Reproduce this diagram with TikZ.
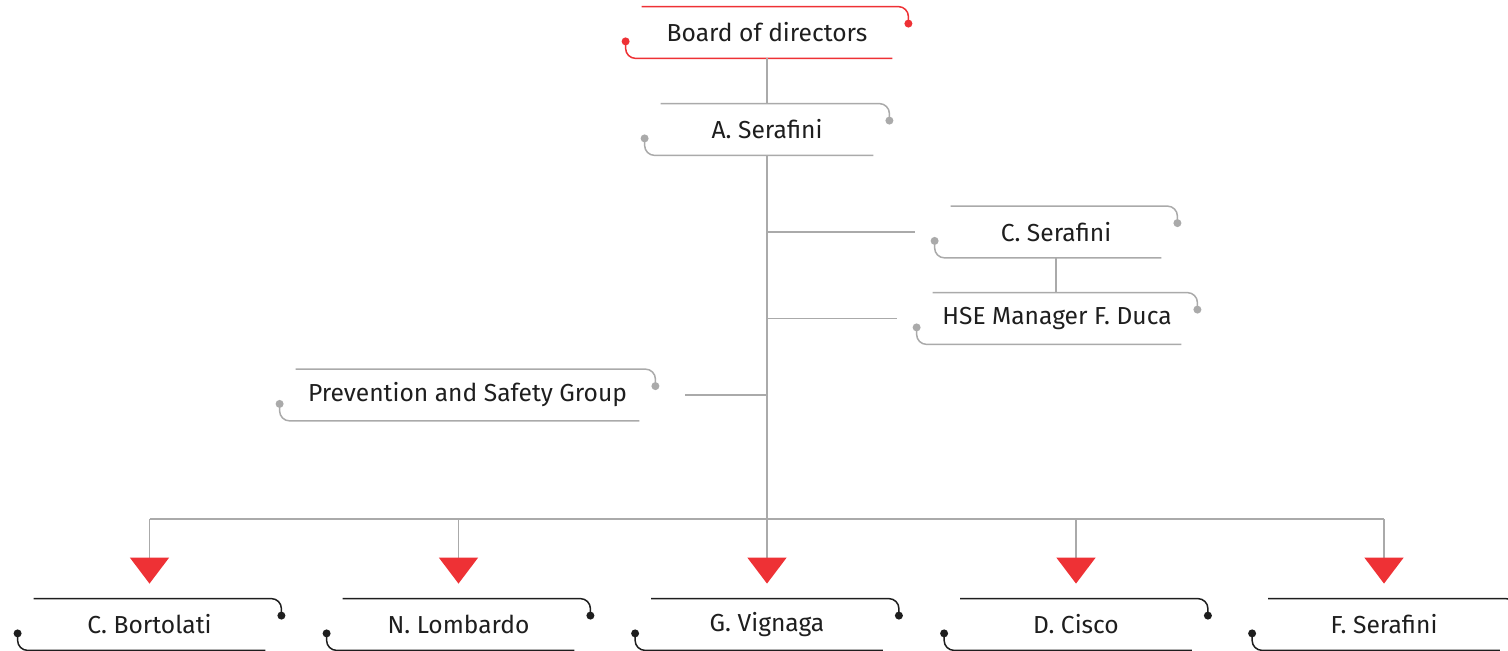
\documentclass[tikz,border=0pt]{standalone}
\usepackage{fontspec}
\setmainfont{Fira Sans}
\usetikzlibrary{arrows.meta}

\definecolor{brandred}{HTML}{EE3135}
\definecolor{linegray}{HTML}{AAAAAA}
\definecolor{ink}{HTML}{1E1E1E}

\begin{document}
\begin{tikzpicture}[x=0.5pt,y=-0.5pt]

    \tikzset{
      box/.style={shape=rectangle, inner sep=0pt, minimum height=25.5pt,
        text=ink, font=\fontsize{12.3}{14}\selectfont,
        append after command={\pgfextra{%
          \draw[#1, line width=0.75pt] ([xshift=8pt]\tikzlastnode.north west)
            -- ([xshift=-5pt]\tikzlastnode.north east)
            arc[start angle=90, end angle=0, radius=5pt]
            -- ([yshift=-8.5pt]\tikzlastnode.north east);
          \fill[#1] ([yshift=-8.5pt]\tikzlastnode.north east) circle[radius=2pt];
          \draw[#1, line width=0.75pt] ([yshift=8.5pt]\tikzlastnode.south west)
            -- ([yshift=5pt]\tikzlastnode.south west)
            arc[start angle=180, end angle=270, radius=5pt]
            -- ([xshift=-8pt]\tikzlastnode.south east);
          \fill[#1] ([yshift=8.5pt]\tikzlastnode.south west) circle[radius=2pt];
        }}},
      box/.default=linegray,
      drop/.style={-{Triangle[length=13pt, width=19.5pt, color=brandred]}, shorten >=7.5pt}
    }

    \useasboundingbox (0,0) rectangle (1508,651);

    \node[box=brandred, minimum width=141pt] (board) at (767,32.5) {Board of directors};
    \node[box, minimum width=122pt] (aser) at (767,129.5) {A. Serafini};

    \node[box, minimum width=121pt] (cser) at (1056,232) {C. Serafini};
    \node[box, minimum width=140pt] (hse) at (1057,318.5) {HSE Manager F. Duca};
    \node[box, minimum width=187.5pt] (psg) at (467.5,395) {Prevention and Safety Group};

    % bottom row
    \node[box=ink, minimum width=131.5pt] (cbor) at (149.5,624.5) {C. Bortolati};
    \node[box=ink, minimum width=131.5pt] (nlom) at (458.5,624.5) {N. Lombardo};
    \node[box=ink, minimum width=131.5pt] (gvig) at (767,624.5) {G. Vignaga};
    \node[box=ink, minimum width=131.5pt] (dcis) at (1076,624.5) {D. Cisco};
    \node[box=ink, minimum width=131.5pt] (fser) at (1384,624.5) {F. Serafini};

    \coordinate (bus) at (767,519);

    \begin{scope}[every path/.style={draw=linegray, line width=0.75pt}]
        \draw (board) -- (aser);
        \draw (aser) -- (bus);

        \draw (aser.south |- cser) -- ([xshift=-10pt]cser.west);
        \draw (aser.south |- hse) -- ([xshift=-10pt]hse.west);
        \draw ([xshift=15pt]psg.east) -- (aser.south |- psg);
        \draw[line width=1.25pt] (cser.south) -- (cser.south |- hse.north);

        \draw (cbor.north |- bus) -- (fser.north |- bus);
        \draw[drop] (cbor.north |- bus) -- (cbor.north);
        \draw[drop] (nlom.north |- bus) -- (nlom.north);
        \draw[drop] (gvig.north |- bus) -- (gvig.north);
        \draw[drop] (dcis.north |- bus) -- (dcis.north);
        \draw[drop] (fser.north |- bus) -- (fser.north);
    \end{scope}

\end{tikzpicture}
\end{document}
